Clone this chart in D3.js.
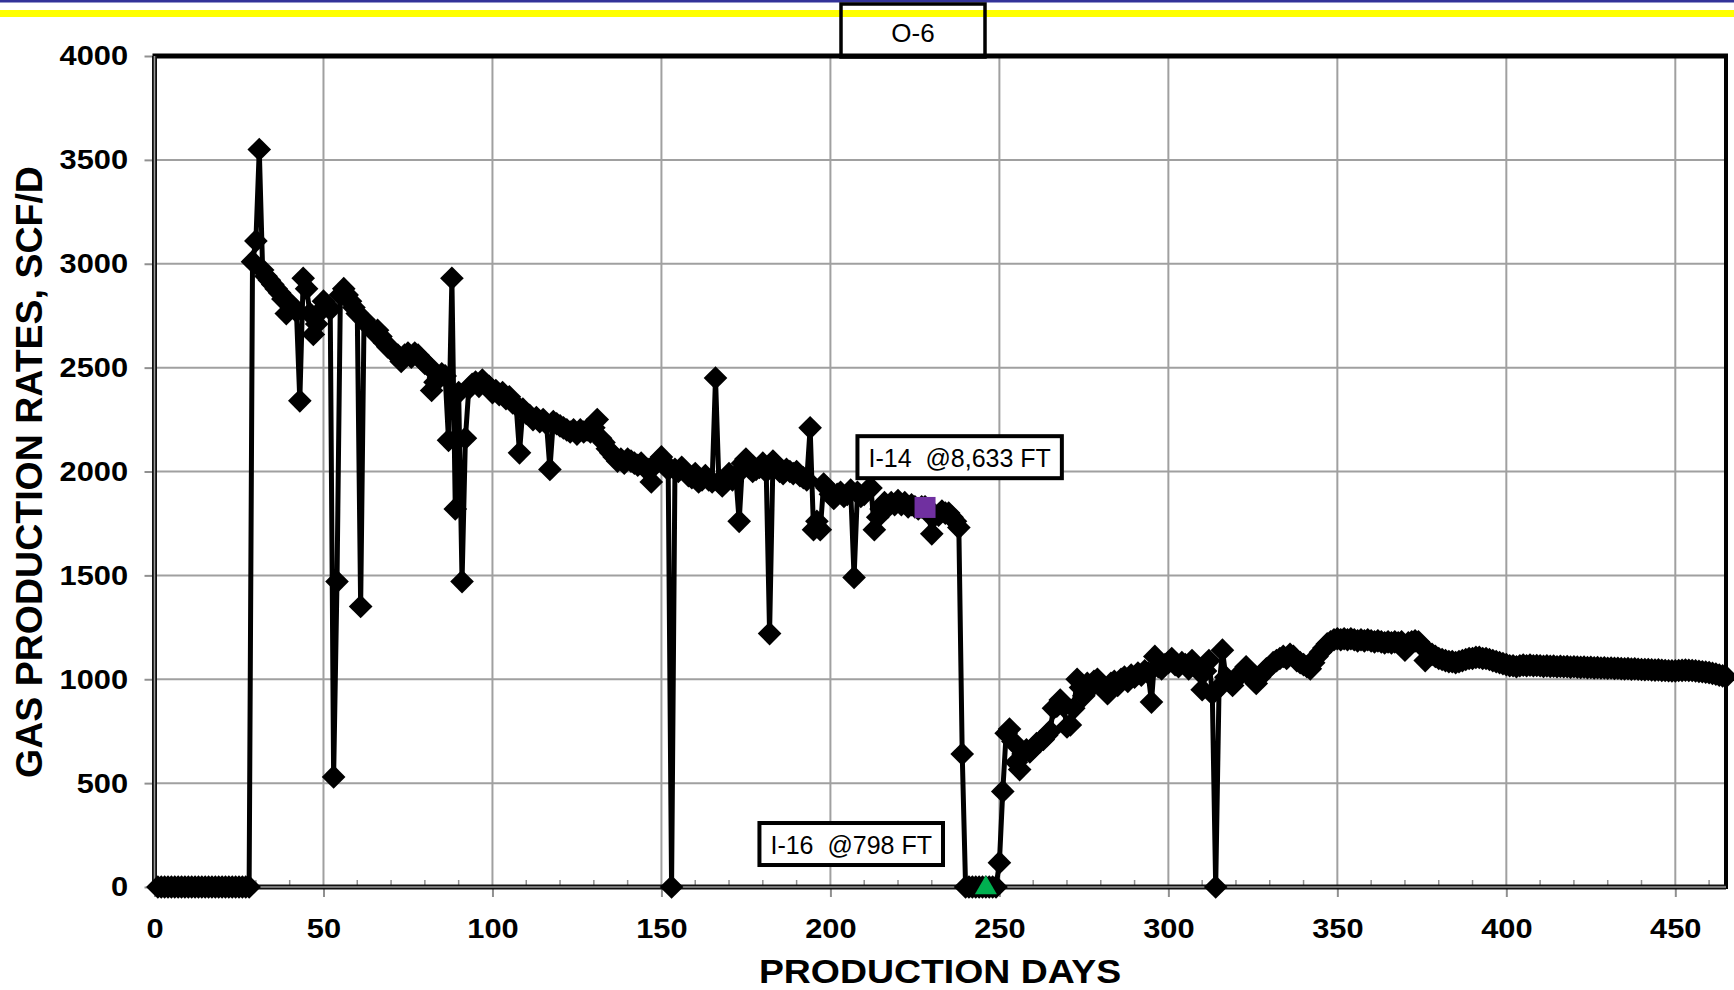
<!DOCTYPE html>
<html>
<head>
<meta charset="utf-8">
<script src="https://cdn.jsdelivr.net/npm/d3@7"></script>
<style>
  body { margin: 0; background: #fff; }
  svg { display: block; }
  text { font-family: "Liberation Sans", Arial, sans-serif; }
</style>
</head>
<body>
<div id="chart"></div>
<script>
// gas rate for O-6, one value per production day, starting at day 1
var firstDay = 1;
var gasRate = [
  0, 0, 0, 0, 0, 0, 0, 0, 0, 0,                               // 1-10
  0, 0, 0, 0, 0, 0, 0, 0, 0, 0,                               // 11-20
  0, 0, 0, 0, 0, 0, 0, 0, 3010, 3110,                         // 21-30
  3550, 2970, 2940, 2920, 2900, 2880, 2860, 2830, 2760, 2810, // 31-40
  2790, 2770, 2340, 2930, 2880, 2760, 2660, 2710, 2770, 2820, // 41-50
  2800, 2780, 530, 1470, 2850, 2880, 2850, 2820, 2790, 2760,  // 51-60
  1350, 2730, 2710, 2690, 2670, 2680, 2650, 2620, 2600, 2590, // 61-70
  2570, 2560, 2530, 2560, 2570, 2550, 2570, 2560, 2540, 2520, // 71-80
  2510, 2390, 2430, 2450, 2470, 2460, 2150, 2930, 1820, 2380, // 81-90
  1470, 2160, 2400, 2420, 2430, 2410, 2440, 2420, 2410, 2380, // 91-100
  2390, 2370, 2380, 2350, 2360, 2330, 2320, 2090, 2300, 2280, // 101-110
  2270, 2250, 2260, 2240, 2250, 2230, 2010, 2240, 2230, 2220, // 111-120
  2210, 2200, 2190, 2200, 2180, 2200, 2190, 2200, 2190, 2210, // 121-130
  2250, 2160, 2140, 2110, 2090, 2070, 2050, 2060, 2040, 2060, // 131-140
  2050, 2040, 2030, 2040, 2020, 2010, 1950, 2030, 2050, 2070, // 141-150
  2040, 2010, 0, 2010, 2000, 2020, 2000, 1980, 1970, 1990,    // 151-160
  1950, 1960, 1980, 1960, 1950, 2450, 1950, 1930, 1960, 1990, // 161-170
  1960, 1980, 1760, 2040, 2060, 2030, 2000, 2010, 2020, 2040, // 171-180
  2000, 1220, 2050, 2020, 2000, 1990, 2010, 2000, 1990, 2000, // 181-190
  1980, 1970, 1960, 2210, 1720, 1760, 1720, 1940, 1920, 1890, // 191-200
  1870, 1890, 1900, 1880, 1890, 1910, 1490, 1900, 1880, 1890, // 201-210
  1910, 1920, 1720, 1780, 1820, 1850, 1830, 1850, 1840, 1860, // 211-220
  1840, 1850, 1830, 1840, 1830, 1820, 1830, 1830, 1800, 1700, // 221-230
  1790, 1790, 1810, 1800, 1800, 1780, 1760, 1730, 640, 0,     // 231-240
  0, 0, 0, 0, 0, 0, 0, 0, 0, 117,                             // 241-250
  460, 740, 760, 700, 600, 565, 640, 660, 650, 670,           // 251-260
  690, 700, 710, 730, 750, 860, 870, 900, 870, 770,           // 261-270
  780, 860, 1000, 960, 920, 980, 960, 990, 1000, 970,         // 271-280
  960, 930, 980, 990, 970, 1000, 1010, 990, 1020, 1010,       // 281-290
  1030, 1020, 1040, 1030, 890, 1110, 1060, 1050, 1070, 1080,  // 291-300
  1100, 1070, 1060, 1080, 1070, 1050, 1090, 1060, 1040, 950,  // 301-310
  1040, 1090, 930, 0, 960, 1140, 1010, 990, 970, 1000,        // 311-320
  1020, 1040, 1060, 1030, 1000, 980, 1010, 1030, 1050, 1060,  // 321-330
  1080, 1090, 1100, 1110, 1100, 1120, 1110, 1090, 1080, 1070, // 331-340
  1060, 1050, 1080, 1110, 1130, 1150, 1170, 1180, 1190, 1195, // 341-350
  1190, 1195, 1190, 1195, 1190, 1185, 1190, 1185, 1190, 1185, // 351-360
  1180, 1185, 1180, 1175, 1180, 1175, 1180, 1175, 1180, 1140, // 361-370
  1175, 1180, 1185, 1180, 1160, 1090, 1130, 1120, 1110, 1100, // 371-380
  1095, 1090, 1085, 1085, 1080, 1085, 1090, 1095, 1100, 1100, // 381-390
  1105, 1105, 1100, 1100, 1095, 1090, 1085, 1080, 1075, 1070, // 391-400
  1065, 1065, 1060, 1065, 1068, 1065, 1068, 1065, 1066, 1065, // 401-410
  1062, 1064, 1062, 1063, 1060, 1062, 1060, 1061, 1058, 1060, // 411-420
  1058, 1057, 1058, 1056, 1057, 1055, 1056, 1054, 1055, 1053, // 421-430
  1054, 1052, 1053, 1051, 1050, 1051, 1049, 1050, 1048, 1047, // 431-440
  1046, 1047, 1045, 1044, 1045, 1043, 1042, 1041, 1040, 1040, // 441-450
  1042, 1043, 1044, 1043, 1042, 1040, 1038, 1036, 1034, 1032, // 451-460
  1028, 1025, 1020, 1016, 1012                                // 461-465
];

var xTicks = [0, 50, 100, 150, 200, 250, 300, 350, 400, 450];
var yTicks = [0, 500, 1000, 1500, 2000, 2500, 3000, 3500, 4000];
var i14Marker = [{ day: 228, rate: 1827 }];
var i16Marker = [{ day: 246, rate: 0 }];
var notes = [
  { label: "I-14  @8,633 FT", day: 208, rate: 2170 },
  { label: "I-16  @798 FT", day: 179, rate: 308 }
];
var wellName = "O-6";

var W = 1734, H = 990;
var margin = { top: 56, right: 8, bottom: 103, left: 154.5 };

var series = gasRate.map(function (v, i) { return { day: i + firstDay, rate: v }; });

var x = d3.scaleLinear().domain([0, 465]).range([margin.left, W - margin.right]);
var y = d3.scaleLinear().domain([0, 4000]).range([H - margin.bottom, margin.top]);

var svg = d3.select("#chart").append("svg")
  .attr("width", W)
  .attr("height", H);

// banner lines at the very top
svg.append("rect").attr("x", 0).attr("y", 0).attr("width", W).attr("height", 2.5).attr("fill", "#333399");
svg.append("rect").attr("x", 0).attr("y", 10).attr("width", W).attr("height", 7).attr("fill", "#ffff00");

// grid lines
svg.append("g").selectAll("line")
  .data(xTicks.filter(function (d) { return d > 0; }))
  .enter().append("line")
  .attr("x1", function (d) { return x(d); })
  .attr("x2", function (d) { return x(d); })
  .attr("y1", y(4000))
  .attr("y2", y(0))
  .attr("stroke", "#a0a0a0")
  .attr("stroke-width", 2);

svg.append("g").selectAll("line")
  .data(yTicks.filter(function (d) { return d > 0 && d < 4000; }))
  .enter().append("line")
  .attr("x1", x(0))
  .attr("x2", x(465))
  .attr("y1", function (d) { return y(d); })
  .attr("y2", function (d) { return y(d); })
  .attr("stroke", "#a0a0a0")
  .attr("stroke-width", 2);

// minor ticks on the day axis, pointing up into the plot
svg.append("g").selectAll("line")
  .data(d3.range(10, 465, 10).filter(function (d) { return d % 50 !== 0; }))
  .enter().append("line")
  .attr("x1", function (d) { return x(d); })
  .attr("x2", function (d) { return x(d); })
  .attr("y1", y(0))
  .attr("y2", y(0) - 7)
  .attr("stroke", "#909090")
  .attr("stroke-width", 1.5);

// axes (ticks + labels)
var xAxis = svg.append("g")
  .attr("transform", "translate(0," + y(0) + ")")
  .call(d3.axisBottom(x).tickValues(xTicks).tickFormat(d3.format("d"))
    .tickSize(10).tickSizeOuter(0).tickPadding(21));
var yAxis = svg.append("g")
  .attr("transform", "translate(" + x(0) + ",0)")
  .call(d3.axisLeft(y).tickValues(yTicks).tickFormat(d3.format("d"))
    .tickSize(10).tickSizeOuter(0).tickPadding(14));

[xAxis, yAxis].forEach(function (g) {
  g.select(".domain").remove();
  g.selectAll(".tick line").attr("stroke", "#909090").attr("stroke-width", 2);
  g.selectAll(".tick text")
    .attr("fill", "#000")
    .style("font-size", "28px")
    .style("font-weight", "bold")
    .attr("transform", "scale(1.1,1)");
});

// plot frame: double lines on the axes, heavy black on top and right
svg.append("line").attr("x1", x(0) - 2).attr("x2", x(465) + 2).attr("y1", y(4000)).attr("y2", y(4000))
  .attr("stroke", "#000").attr("stroke-width", 5);
svg.append("line").attr("x1", x(465)).attr("x2", x(465)).attr("y1", y(4000) - 2).attr("y2", y(0) + 2)
  .attr("stroke", "#000").attr("stroke-width", 4);
[[x(0), y(4000), x(0), y(0) + 2], [x(0) - 2, y(0), x(465), y(0)]].forEach(function (p) {
  svg.append("line").attr("x1", p[0]).attr("y1", p[1]).attr("x2", p[2]).attr("y2", p[3])
    .attr("stroke", "#111").attr("stroke-width", 5);
  svg.append("line").attr("x1", p[0]).attr("y1", p[1]).attr("x2", p[2]).attr("y2", p[3])
    .attr("stroke", "#9a9a9a").attr("stroke-width", 1.5);
});

// production line and diamond markers
var line = d3.line()
  .x(function (d) { return x(d.day); })
  .y(function (d) { return y(d.rate); });

svg.append("path")
  .datum(series)
  .attr("d", line)
  .attr("fill", "none")
  .attr("stroke", "#000")
  .attr("stroke-width", 5)
  .attr("stroke-linejoin", "round");

var diamond = d3.symbol().type(d3.symbolSquare).size(280);
svg.append("g").selectAll("path")
  .data(series)
  .enter().append("path")
  .attr("d", diamond)
  .attr("transform", function (d) { return "translate(" + x(d.day) + "," + y(d.rate) + ") rotate(45)"; })
  .attr("fill", "#000");

// injector markers
svg.append("g").selectAll("path")
  .data(i14Marker)
  .enter().append("path")
  .attr("d", d3.symbol().type(d3.symbolSquare).size(441))
  .attr("transform", function (d) { return "translate(" + x(d.day) + "," + y(d.rate) + ")"; })
  .attr("fill", "#7030a0");

svg.append("g").selectAll("path")
  .data(i16Marker)
  .enter().append("path")
  .attr("d", d3.symbol().type(d3.symbolTriangle).size(210))
  .attr("transform", function (d) { return "translate(" + x(d.day) + "," + (y(d.rate) + 1) + ")"; })
  .attr("fill", "#00b050");

// annotation boxes
notes.forEach(function (n) {
  var g = svg.append("g").attr("transform", "translate(" + x(n.day) + "," + y(n.rate) + ")");
  var rect = g.append("rect").attr("fill", "#fff").attr("stroke", "#000").attr("stroke-width", 4);
  var t = g.append("text")
    .attr("x", 11)
    .attr("y", 31)
    .style("font-size", "25px")
    .style("white-space", "pre")
    .attr("xml:space", "preserve")
    .text(n.label);
  var w = t.node().getComputedTextLength();
  rect.attr("x", 0).attr("y", 0).attr("width", w + 22).attr("height", 42);
});

// well name box at the top
var titleBox = svg.append("g").attr("transform", "translate(913,0)");
titleBox.append("rect")
  .attr("x", -72).attr("y", 4).attr("width", 144).attr("height", 53)
  .attr("fill", "none").attr("stroke", "#000").attr("stroke-width", 3.5);
titleBox.append("text")
  .attr("x", 0).attr("y", 42)
  .attr("text-anchor", "middle")
  .style("font-size", "26px")
  .text(wellName);

// axis titles
svg.append("text")
  .attr("transform", "translate(940,983) scale(1.1,1)")
  .attr("text-anchor", "middle")
  .style("font-size", "34px")
  .style("font-weight", "bold")
  .text("PRODUCTION DAYS");

svg.append("text")
  .attr("transform", "translate(42,472) rotate(-90)")
  .attr("text-anchor", "middle")
  .style("font-size", "37.5px")
  .style("font-weight", "bold")
  .text("GAS PRODUCTION RATES, SCF/D");
</script>
</body>
</html>
